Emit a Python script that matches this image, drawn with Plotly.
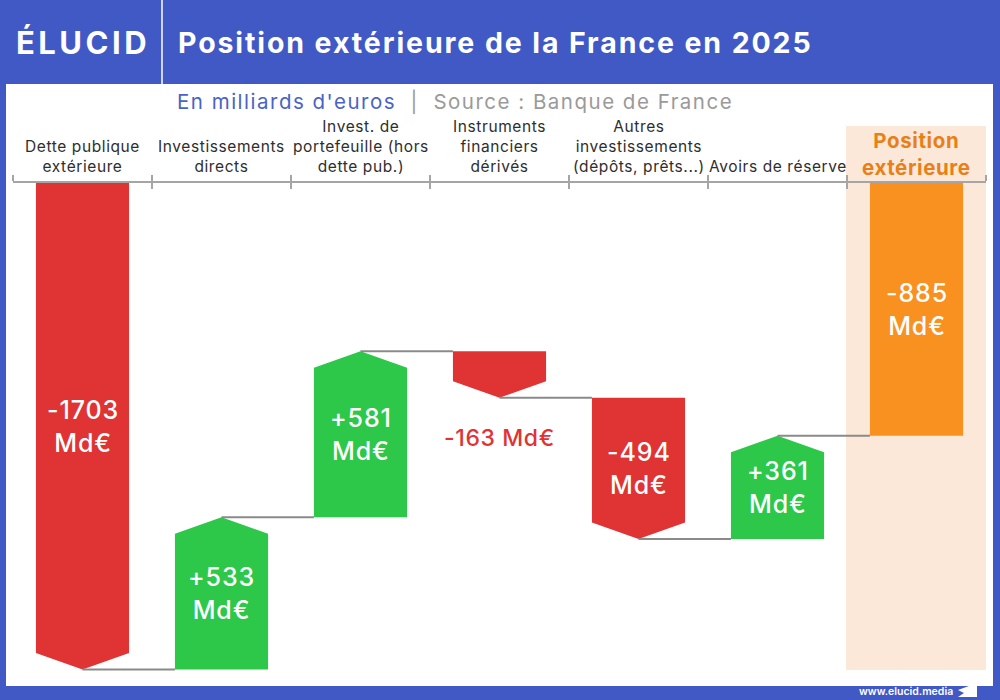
import plotly.graph_objects as go

# ---------------- data ----------------
categories = ["Dette publique<br>extérieure", "Investissements<br>directs",
              "Invest. de<br>portefeuille (hors<br>dette pub.)",
              "Instruments<br>financiers<br>dérivés",
              "Autres<br>investissements<br>(dépôts, prêts...)",
              "Avoirs de réserve"]
total_label = "Position<br>extérieure"
values = [-1703, 533, 581, -163, -494, 361]
total_value = -885
value_labels = ["-1703<br>Md€", "+533<br>Md€", "+581<br>Md€", "-163 Md€",
                "-494<br>Md€", "+361<br>Md€"]
total_text = "-885<br>Md€"

RED = "#e03434"
GREEN = "#2dc84a"
ORANGE = "#f8911f"
PANEL = "#fce8d8"
BLUE = "#4059c5"
FONT = "Inter"

W = 1000
H = 700
PX_L, PX_R, PX_T, PX_B = 13, 986, 183, 686
PX_PER_UNIT = 486.5 / 1703.0
y_min = -(PX_B - PX_T) / PX_PER_UNIT

def px(x):
    return x / W

def py(y):
    return 1 - y / H

def spaced(text, sp):
    return "<br>".join(f"<span style='letter-spacing:{sp}px'>{line}</span>"
                       for line in text.split("<br>"))

bw = 0.67
head = 16.5 / PX_PER_UNIT

fig = go.Figure()

cum = 0
starts, ends = [], []
for v in values:
    starts.append(cum)
    cum += v
    ends.append(cum)

for i, (s, e, v) in enumerate(zip(starts, ends, values)):
    xl, xr = i - bw / 2, i + bw / 2
    if v < 0:
        xs = [xl, xr, xr, i, xl, xl]
        ys = [s, s, e + head, e, e + head, s]
        col = RED
    else:
        xs = [xl, xr, xr, i, xl, xl]
        ys = [s, s, e - head, e, e - head, s]
        col = GREEN
    fig.add_trace(go.Scatter(x=xs, y=ys, fill="toself", fillcolor=col,
                             mode="lines", line=dict(width=0, color=col),
                             hoverinfo="skip", showlegend=False))
    nxt = i + 1
    fig.add_trace(go.Scatter(x=[i, nxt - bw / 2], y=[e, e], mode="lines",
                             line=dict(color="#8a8a8a", width=2),
                             hoverinfo="skip", showlegend=False))

ti = len(values)
fig.add_trace(go.Scatter(x=[ti - bw / 2, ti + bw / 2, ti + bw / 2, ti - bw / 2, ti - bw / 2],
                         y=[0, 0, total_value, total_value, 0], fill="toself",
                         fillcolor=ORANGE, mode="lines", line=dict(width=0, color=ORANGE),
                         hoverinfo="skip", showlegend=False))

fig.add_trace(go.Scatter(x=[0], y=[0], xaxis="x2", mode="markers",
                         marker=dict(opacity=0), hoverinfo="skip", showlegend=False))

VAL_FONT = dict(family=FONT, size=25, color="white", weight=500)
annotations = []
for i, (s, e, v, t) in enumerate(zip(starts, ends, values, value_labels)):
    if abs(v) > 300:
        annotations.append(dict(x=i, y=(s + e) / 2, xref="x", yref="y", text=spaced(t, 0.9),
                                showarrow=False, font=VAL_FONT,
                                xanchor="center", yanchor="middle"))
    else:
        annotations.append(dict(x=i, y=e, xref="x", yref="y", text=spaced(t, 0.6), yshift=-40,
                                showarrow=False,
                                font=dict(family=FONT, size=23, color=RED, weight=500),
                                xanchor="center", yanchor="middle"))
annotations.append(dict(x=ti, y=total_value / 2, xref="x", yref="y", text=spaced(total_text, 0.9),
                        showarrow=False, font=VAL_FONT,
                        xanchor="center", yanchor="middle"))

for i, c in enumerate(categories):
    annotations.append(dict(x=i, y=py(178), xref="x", yref="paper", text=spaced(c, 0.6),
                            showarrow=False, font=dict(family=FONT, size=15.5, color="#2e2e2e"),
                            xanchor="center", yanchor="bottom"))
annotations.append(dict(x=ti, y=py(182), xref="x", yref="paper", text=spaced(total_label, 0.6),
                        showarrow=False,
                        font=dict(family=FONT, size=20.5, color="#e8801a", weight=700),
                        xanchor="center", yanchor="bottom"))

# header
annotations.append(dict(x=px(14), y=py(42), xref="paper", yref="paper", text=spaced("ÉLUCID", 3.5),
                        showarrow=False, font=dict(family=FONT, size=31, color="white", weight=700),
                        xanchor="left", yanchor="middle"))
annotations.append(dict(x=px(176), y=py(42), xref="paper", yref="paper",
                        text=spaced("Position extérieure de la France en 2025", 1.9),
                        showarrow=False, font=dict(family=FONT, size=28.5, color="white", weight=700),
                        xanchor="left", yanchor="middle"))
annotations.append(dict(x=px(455), y=py(102), xref="paper", yref="paper",
                        text="<span style='color:#4b63c4;letter-spacing:1.5px'>En milliards d'euros</span>"
                             "<span style='color:#9a9a9a;letter-spacing:1.5px'>  |  Source : Banque de France</span>",
                        showarrow=False, font=dict(family=FONT, size=20.5),
                        xanchor="center", yanchor="middle"))
annotations.append(dict(x=px(955), y=py(691), xref="paper", yref="paper",
                        text="www.elucid.media",
                        showarrow=False, font=dict(family=FONT, size=10.5, color="white", weight=600),
                        xanchor="right", yanchor="middle"))

shapes = [
    dict(type="rect", xref="paper", yref="paper", x0=px(6), x1=px(993), y0=py(686), y1=py(84),
         fillcolor="white", line=dict(width=0), layer="below"),
    dict(type="rect", xref="paper", yref="paper", x0=px(846), x1=px(986), y0=py(670), y1=py(126),
         fillcolor=PANEL, line=dict(width=0), layer="below"),
    dict(type="line", xref="paper", yref="paper", x0=px(162), x1=px(162), y0=py(0), y1=py(84),
         line=dict(color="white", width=1.5)),
    dict(type="path", xref="paper", yref="paper",
         path=f"M {px(958)},{py(690)} L {px(977)},{py(683)} L {px(977)},{py(697)} L {px(958)},{py(697)} L {px(964)},{py(693)} Z",
         fillcolor="white", line=dict(width=0)),
]

tickvals = [i - 0.5 for i in range(len(values) + 2)]

fig.update_layout(
    width=W, height=H, margin=dict(l=0, r=0, t=0, b=0),
    paper_bgcolor=BLUE, plot_bgcolor="rgba(0,0,0,0)",
    showlegend=False,
    xaxis=dict(domain=[px(PX_L), px(PX_R)], range=[-0.5, len(values) + 0.5], side="top",
               showline=True, linecolor="#a5a5a5", linewidth=2,
               ticks="outside", ticklen=6, tickwidth=2, tickcolor="#a5a5a5",
               tickvals=tickvals, showticklabels=False, showgrid=False, zeroline=False,
               fixedrange=True),
    xaxis2=dict(overlaying="x", matches="x", side="top", anchor="y",
                ticks="inside", ticklen=6, tickwidth=2, tickcolor="#a5a5a5",
                tickvals=tickvals, showticklabels=False, showgrid=False, zeroline=False,
                showline=False),
    yaxis=dict(domain=[py(PX_B), py(PX_T)], range=[y_min, 0], visible=False,
               showgrid=False, zeroline=False, fixedrange=True),
    annotations=annotations, shapes=shapes,
)

fig.write_html("out.html")
